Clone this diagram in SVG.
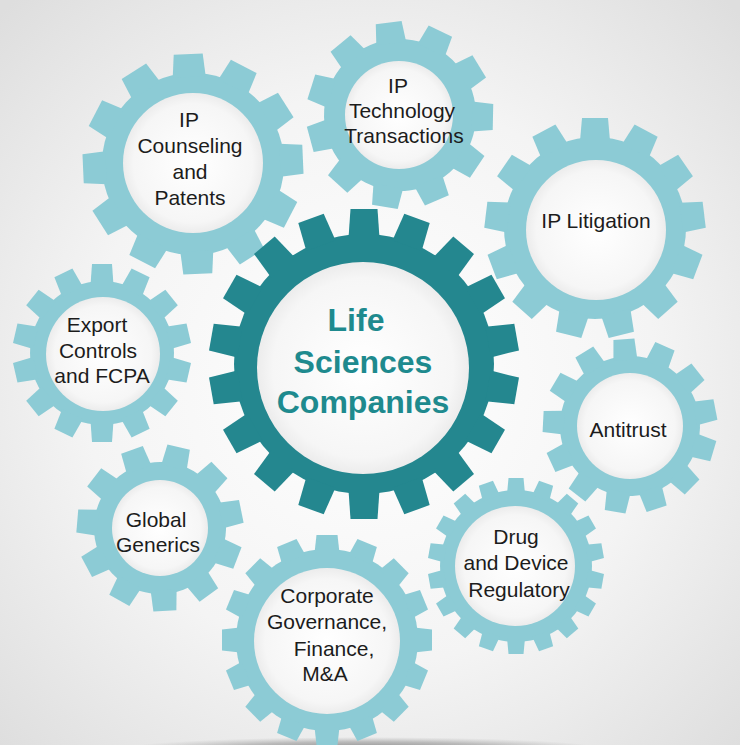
<svg xmlns="http://www.w3.org/2000/svg" width="740" height="745" viewBox="0 0 740 745">
<style>
.light{fill:#8ccbd5}
.dark{fill:#24878f}
.hole{fill:url(#holeGrad)}
.lbl{font-family:Arial,"Liberation Sans",sans-serif;font-size:21px;fill:#1c1c1c;text-anchor:middle}
.main{font-family:Arial,"Liberation Sans",sans-serif;font-size:32px;font-weight:bold;fill:#1e8a8e;text-anchor:middle}
</style>
<defs>
<radialGradient id="bg" cx="370" cy="380" r="520" gradientUnits="userSpaceOnUse">
<stop offset="0" stop-color="#ffffff"/>
<stop offset="0.55" stop-color="#f4f4f4"/>
<stop offset="1" stop-color="#dedede"/>
</radialGradient>
<radialGradient id="holeGrad" cx="0.5" cy="0.5" r="0.5">
<stop offset="0" stop-color="#ffffff"/>
<stop offset="0.85" stop-color="#f6f6f6"/>
<stop offset="1" stop-color="#ececec"/>
</radialGradient>
<radialGradient id="shadow" cx="0.5" cy="0.5" r="0.5">
<stop offset="0" stop-color="#7a7a7a" stop-opacity="0.9"/>
<stop offset="0.6" stop-color="#8a8a8a" stop-opacity="0.5"/>
<stop offset="1" stop-color="#9a9a9a" stop-opacity="0"/>
</radialGradient>
<polygon id="tC" points="-15.5,-126 -13.5,-155 13.5,-155 15.5,-126"/>
<polygon id="t1" points="-16.5,-87 -14.5,-110 14.5,-110 16.5,-87"/>
<polygon id="t2" points="-15,-72 -13,-93 13,-93 15,-72"/>
<polygon id="t3" points="-15,-87 -13,-110 13,-110 15,-87"/>
<polygon id="t4" points="-11.5,-68 -10,-89 10,-89 11.5,-68"/>
<polygon id="t5" points="-12,-66 -10.5,-87 10.5,-87 12,-66"/>
<polygon id="t6" points="-13,-62 -11.5,-83 11.5,-83 13,-62"/>
<polygon id="t7" points="-9,-72 -7.5,-88 7.5,-88 9,-72"/>
<polygon id="t8" points="-12.5,-87 -10.5,-105 10.5,-105 12.5,-87"/>
</defs>

<rect x="0" y="0" width="740" height="745" fill="url(#bg)"/>
<ellipse cx="365" cy="749" rx="240" ry="12" fill="url(#shadow)"/>

<g id="gear-ip-counseling">
<g class="light" transform="translate(193,164) rotate(-2.5)">
<circle r="91"/>
<use href="#t1"/><use href="#t1" transform="rotate(30)"/><use href="#t1" transform="rotate(60)"/><use href="#t1" transform="rotate(90)"/><use href="#t1" transform="rotate(120)"/><use href="#t1" transform="rotate(150)"/><use href="#t1" transform="rotate(180)"/><use href="#t1" transform="rotate(210)"/><use href="#t1" transform="rotate(240)"/><use href="#t1" transform="rotate(270)"/><use href="#t1" transform="rotate(300)"/><use href="#t1" transform="rotate(330)"/>
</g>
<circle class="hole" cx="193" cy="163" r="70"/>
<text class="lbl"><tspan x="189" y="127">IP</tspan><tspan x="190" y="153">Counseling</tspan><tspan x="190" y="179">and</tspan><tspan x="190" y="205">Patents</tspan></text>
</g>

<g id="gear-ip-technology">
<g class="light" transform="translate(400,115) rotate(-7)">
<circle r="76"/>
<use href="#t2"/><use href="#t2" transform="rotate(32.73)"/><use href="#t2" transform="rotate(65.45)"/><use href="#t2" transform="rotate(98.18)"/><use href="#t2" transform="rotate(130.91)"/><use href="#t2" transform="rotate(163.64)"/><use href="#t2" transform="rotate(196.36)"/><use href="#t2" transform="rotate(229.09)"/><use href="#t2" transform="rotate(261.82)"/><use href="#t2" transform="rotate(294.55)"/><use href="#t2" transform="rotate(327.27)"/>
</g>
<circle class="hole" cx="399" cy="115" r="54"/>
<text class="lbl"><tspan x="398" y="93">IP</tspan><tspan x="402" y="118">Technology</tspan><tspan x="404" y="143">Transactions</tspan></text>
</g>

<g id="gear-ip-litigation">
<g class="light" transform="translate(595,228)">
<circle r="91"/>
<use href="#t3"/><use href="#t3" transform="rotate(27.69)"/><use href="#t3" transform="rotate(55.38)"/><use href="#t3" transform="rotate(83.08)"/><use href="#t3" transform="rotate(110.77)"/><use href="#t3" transform="rotate(138.46)"/><use href="#t3" transform="rotate(166.15)"/><use href="#t3" transform="rotate(193.85)"/><use href="#t3" transform="rotate(221.54)"/><use href="#t3" transform="rotate(249.23)"/><use href="#t3" transform="rotate(276.92)"/><use href="#t3" transform="rotate(304.62)"/><use href="#t3" transform="rotate(332.31)"/>
</g>
<circle class="hole" cx="596" cy="230" r="70"/>
<text class="lbl" x="596" y="228">IP Litigation</text>
</g>

<g id="gear-export-controls">
<g class="light" transform="translate(102,353)">
<circle r="72"/>
<use href="#t4"/><use href="#t4" transform="rotate(25.71)"/><use href="#t4" transform="rotate(51.43)"/><use href="#t4" transform="rotate(77.14)"/><use href="#t4" transform="rotate(102.86)"/><use href="#t4" transform="rotate(128.57)"/><use href="#t4" transform="rotate(154.29)"/><use href="#t4" transform="rotate(180)"/><use href="#t4" transform="rotate(205.71)"/><use href="#t4" transform="rotate(231.43)"/><use href="#t4" transform="rotate(257.14)"/><use href="#t4" transform="rotate(282.86)"/><use href="#t4" transform="rotate(308.57)"/><use href="#t4" transform="rotate(334.29)"/>
</g>
<circle class="hole" cx="103" cy="354" r="57"/>
<text class="lbl"><tspan x="97" y="332">Export</tspan><tspan x="98" y="358">Controls</tspan><tspan x="102" y="383">and FCPA</tspan></text>
</g>

<g id="gear-antitrust">
<g class="light" transform="translate(630,426) rotate(-4)">
<circle r="70"/>
<use href="#t5"/><use href="#t5" transform="rotate(27.69)"/><use href="#t5" transform="rotate(55.38)"/><use href="#t5" transform="rotate(83.08)"/><use href="#t5" transform="rotate(110.77)"/><use href="#t5" transform="rotate(138.46)"/><use href="#t5" transform="rotate(166.15)"/><use href="#t5" transform="rotate(193.85)"/><use href="#t5" transform="rotate(221.54)"/><use href="#t5" transform="rotate(249.23)"/><use href="#t5" transform="rotate(276.92)"/><use href="#t5" transform="rotate(304.62)"/><use href="#t5" transform="rotate(332.31)"/>
</g>
<circle class="hole" cx="630" cy="426" r="53"/>
<text class="lbl" x="628" y="437">Antitrust</text>
</g>

<g id="gear-global-generics">
<g class="light" transform="translate(160,528) rotate(13)">
<circle r="66"/>
<use href="#t6"/><use href="#t6" transform="rotate(32.73)"/><use href="#t6" transform="rotate(65.45)"/><use href="#t6" transform="rotate(98.18)"/><use href="#t6" transform="rotate(130.91)"/><use href="#t6" transform="rotate(163.64)"/><use href="#t6" transform="rotate(196.36)"/><use href="#t6" transform="rotate(229.09)"/><use href="#t6" transform="rotate(261.82)"/><use href="#t6" transform="rotate(294.55)"/><use href="#t6" transform="rotate(327.27)"/>
</g>
<circle class="hole" cx="160" cy="528" r="48"/>
<text class="lbl"><tspan x="156" y="527">Global</tspan><tspan x="158" y="552">Generics</tspan></text>
</g>

<g id="gear-drug-device">
<g class="light" transform="translate(516,566)">
<circle r="76"/>
<use href="#t7"/><use href="#t7" transform="rotate(20)"/><use href="#t7" transform="rotate(40)"/><use href="#t7" transform="rotate(60)"/><use href="#t7" transform="rotate(80)"/><use href="#t7" transform="rotate(100)"/><use href="#t7" transform="rotate(120)"/><use href="#t7" transform="rotate(140)"/><use href="#t7" transform="rotate(160)"/><use href="#t7" transform="rotate(180)"/><use href="#t7" transform="rotate(200)"/><use href="#t7" transform="rotate(220)"/><use href="#t7" transform="rotate(240)"/><use href="#t7" transform="rotate(260)"/><use href="#t7" transform="rotate(280)"/><use href="#t7" transform="rotate(300)"/><use href="#t7" transform="rotate(320)"/><use href="#t7" transform="rotate(340)"/>
</g>
<circle class="hole" cx="515" cy="566" r="60"/>
<text class="lbl"><tspan x="516" y="544">Drug</tspan><tspan x="516" y="570">and Device</tspan><tspan x="519" y="597">Regulatory</tspan></text>
</g>

<g id="gear-corporate">
<g class="light" transform="translate(327,640)">
<circle r="91"/>
<use href="#t8"/><use href="#t8" transform="rotate(22.5)"/><use href="#t8" transform="rotate(45)"/><use href="#t8" transform="rotate(67.5)"/><use href="#t8" transform="rotate(90)"/><use href="#t8" transform="rotate(112.5)"/><use href="#t8" transform="rotate(135)"/><use href="#t8" transform="rotate(157.5)"/><use href="#t8" transform="rotate(180)"/><use href="#t8" transform="rotate(202.5)"/><use href="#t8" transform="rotate(225)"/><use href="#t8" transform="rotate(247.5)"/><use href="#t8" transform="rotate(270)"/><use href="#t8" transform="rotate(292.5)"/><use href="#t8" transform="rotate(315)"/><use href="#t8" transform="rotate(337.5)"/>
</g>
<circle class="hole" cx="327" cy="641" r="73"/>
<text class="lbl"><tspan x="327" y="603">Corporate</tspan><tspan x="327" y="629">Governance,</tspan><tspan x="334" y="656">Finance,</tspan><tspan x="325" y="681">M&amp;A</tspan></text>
</g>

<g id="gear-life-sciences">
<g class="dark" transform="translate(364,364)">
<circle r="130"/>
<use href="#tC"/><use href="#tC" transform="rotate(20)"/><use href="#tC" transform="rotate(40)"/><use href="#tC" transform="rotate(60)"/><use href="#tC" transform="rotate(80)"/><use href="#tC" transform="rotate(100)"/><use href="#tC" transform="rotate(120)"/><use href="#tC" transform="rotate(140)"/><use href="#tC" transform="rotate(160)"/><use href="#tC" transform="rotate(180)"/><use href="#tC" transform="rotate(200)"/><use href="#tC" transform="rotate(220)"/><use href="#tC" transform="rotate(240)"/><use href="#tC" transform="rotate(260)"/><use href="#tC" transform="rotate(280)"/><use href="#tC" transform="rotate(300)"/><use href="#tC" transform="rotate(320)"/><use href="#tC" transform="rotate(340)"/>
</g>
<circle class="hole" cx="363" cy="368" r="106"/>
<text class="main"><tspan x="356" y="331">Life</tspan><tspan x="363" y="373">Sciences</tspan><tspan x="363" y="413">Companies</tspan></text>
</g>
</svg>
